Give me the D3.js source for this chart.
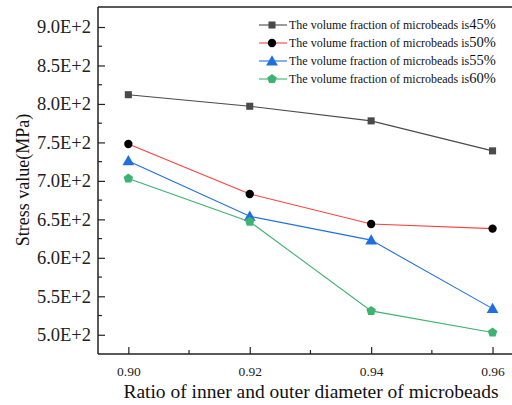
<!DOCTYPE html>
<html><head><meta charset="utf-8">
<script src="https://cdn.jsdelivr.net/npm/d3@7"></script>
<style>body{margin:0;background:#fff}svg{display:block}
svg text{font-family:"Liberation Serif","Times New Roman","DejaVu Serif",serif !important;}</style>
</head><body>
<svg id="c" width="512" height="405"></svg>
<script>
const ratios = [0.90, 0.92, 0.94, 0.96];
const xTicks = [0.90, 0.92, 0.94, 0.96];
const yTicks = [500, 550, 600, 650, 700, 750, 800, 850, 900];
const seriesNames = ["45%", "50%", "55%", "60%"];
const s45 = [812, 797, 778, 739];
const s50 = [748, 683, 644, 638];
const s55 = [726, 654, 623, 534];
const s60 = [703, 647, 531, 503];
const lineColors = ["#4a4a4a", "#ff4040", "#2070e0", "#3cb371"];
const markerColors = ["#4a4a4a", "#000000", "#1f6fe0", "#3cb371"];
const markerShapes = [d3.symbolSquare, d3.symbolCircle, d3.symbolTriangle, "pentagon"];
const allSeries = [s45, s50, s55, s60];

(function () {
const svg = d3.select("#c");
const pLeft = 98, pTop = 7, pBottom = 354;
const x = d3.scaleLinear().domain([0.895, 0.965]).range([pLeft, pLeft + 0.07 / 0.02 * 121.4]);
const y = d3.scaleLinear().domain([475, 926]).range([pBottom, pTop]);

// frame
svg.append("line").attr("x1", pLeft).attr("x2", 512).attr("y1", pTop).attr("y2", pTop)
  .attr("stroke", "#222").attr("stroke-width", 1.5);

// axes
const xAxis = d3.axisBottom(x).tickValues(xTicks).tickFormat(d3.format(".2f")).tickSizeInner(-7).tickSizeOuter(0).tickPadding(12);
const gx = svg.append("g").attr("transform", `translate(0,${pBottom})`).call(xAxis);
gx.attr("font-family", null);
gx.select(".domain").attr("stroke", "#222").attr("stroke-width", 1.5).attr("d", `M${pLeft},0H512`);
gx.selectAll(".tick line").attr("stroke", "#222").attr("stroke-width", 1.2);
gx.selectAll(".tick text").attr("font-size", 13.5).attr("fill", "#222");
const xMinor = [0.91, 0.93, 0.95];
gx.selectAll(".minor").data(xMinor).enter().append("line")
  .attr("x1", d => x(d)).attr("x2", d => x(d)).attr("y1", 0).attr("y2", -4)
  .attr("stroke", "#222").attr("stroke-width", 1.2);

const yAxis = d3.axisLeft(y).tickValues(yTicks).tickFormat(d => (d / 100).toFixed(1) + "E+2").tickSizeInner(-7).tickSizeOuter(0).tickPadding(7);
const gy = svg.append("g").attr("transform", `translate(${pLeft},0)`).call(yAxis);
gy.attr("font-family", null);
gy.select(".domain").attr("stroke", "#222").attr("stroke-width", 1.5).attr("d", `M0,${pTop}V${pBottom}`);
gy.selectAll(".tick line").attr("stroke", "#222").attr("stroke-width", 1.2);
gy.selectAll(".tick text").attr("font-size", 18.5).attr("fill", "#222");
const yMinor = [525, 575, 625, 675, 725, 775, 825, 875];
gy.selectAll(".minor").data(yMinor).enter().append("line")
  .attr("x1", 0).attr("x2", 4).attr("y1", d => y(d)).attr("y2", d => y(d))
  .attr("stroke", "#222").attr("stroke-width", 1.2);

// axis titles
svg.append("text").attr("x", 311).attr("y", 398).attr("text-anchor", "middle")
  .attr("font-size", 19.5).attr("fill", "#111")
  .text("Ratio of inner and outer diameter of microbeads");
svg.append("text").attr("transform", "translate(29,180) rotate(-90)").attr("text-anchor", "middle")
  .attr("font-size", 18).attr("fill", "#111")
  .text("Stress value(MPa)");

function pentagonPath(r) {
  const pts = d3.range(5).map(i => {
    const a = -Math.PI / 2 + i * 2 * Math.PI / 5;
    return [r * Math.cos(a), r * Math.sin(a)];
  });
  return "M" + pts.map(p => p.join(",")).join("L") + "Z";
}
function markerPath(k) {
  const s = markerShapes[k];
  if (s === "pentagon") return pentagonPath(5);
  const sizes = [50, 55, 60, 0];
  return d3.symbol().type(s).size(sizes[k])();
}

const line = d3.line().x((d, i) => x(ratios[i])).y(d => y(d));
allSeries.forEach((vals, k) => {
  svg.append("path").datum(vals).attr("d", line).attr("fill", "none")
    .attr("stroke", lineColors[k]).attr("stroke-width", 1.1);
});
allSeries.forEach((vals, k) => {
  svg.selectAll(null).data(vals).enter().append("path")
    .attr("d", markerPath(k))
    .attr("transform", (d, i) => `translate(${x(ratios[i])},${y(d) + (k === 2 ? 1 : 0)})`)
    .attr("fill", markerColors[k]);
});

// legend
const lg = svg.append("g");
seriesNames.forEach((nm, k) => {
  const ly = 25 + k * 18;
  lg.append("line").attr("x1", 259).attr("x2", 287).attr("y1", ly).attr("y2", ly)
    .attr("stroke", lineColors[k]).attr("stroke-width", 1.1);
  lg.append("path").attr("d", markerPath(k)).attr("transform", `translate(272,${ly + (k === 2 ? 1 : 0)})`)
    .attr("fill", markerColors[k]);
  const t = lg.append("text").attr("x", 289).attr("y", ly + 4)
    .attr("font-size", 12).attr("fill", "#111");
  t.append("tspan").text("The volume fraction of microbeads is");
  t.append("tspan").attr("font-size", 14.5).text(nm);
});
})();
</script>
</body></html>
